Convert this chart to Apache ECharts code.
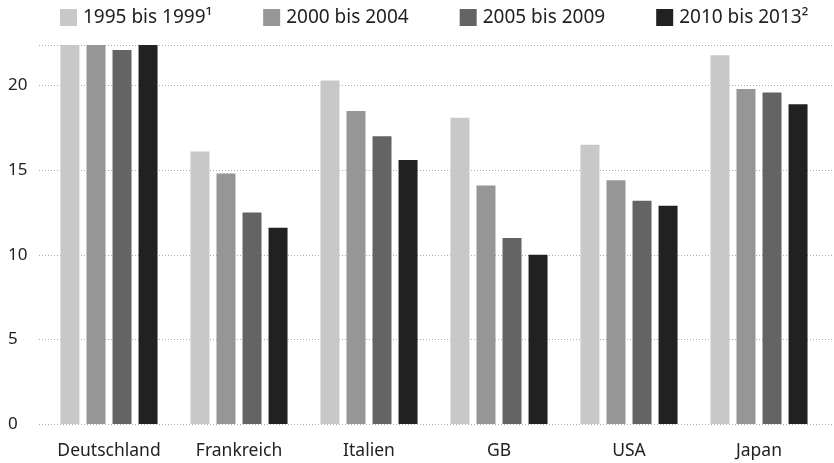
<!DOCTYPE html>
<html>
<head>
<meta charset="utf-8">
<script src="https://cdn.jsdelivr.net/npm/echarts@6/dist/echarts.min.js"></script>
<style>
html,body{margin:0;padding:0;background:#fff;}
#c{width:834px;height:463px;}
</style>
</head>
<body>
<div id="c"></div>
<script>
const categories = ['Deutschland', 'Frankreich', 'Italien', 'GB', 'USA', 'Japan'];
const seriesNames = ['1995 bis 1999\u00B9', '2000 bis 2004', '2005 bis 2009', '2010 bis 2013\u00B2'];
const s1995 = [22.4, 16.1, 20.3, 18.1, 16.5, 21.8];
const s2000 = [22.4, 14.8, 18.5, 14.1, 14.4, 19.8];
const s2005 = [22.1, 12.5, 17.0, 11.0, 13.2, 19.6];
const s2010 = [22.4, 11.6, 15.6, 10.0, 12.9, 18.9];
const yTicks = [0, 5, 10, 15, 20];
const colors = ['#c8c8c8', '#969696', '#646464', '#212121'];

const FONT = '"Noto Sans", sans-serif';
const YMAX = 22.4;
const chart = echarts.init(document.getElementById('c'), null, {renderer: 'canvas'});
const values = [s1995, s2000, s2005, s2010];

chart.setOption({
  animation: false,
  backgroundColor: '#ffffff',
  textStyle: {fontFamily: FONT},
  legend: {
    left: 60, top: 8, padding: 0,
    itemWidth: 17, itemHeight: 17, itemGap: 51,
    icon: 'rect',
    textStyle: {fontSize: 19, color: '#222', fontFamily: FONT, padding: [0, 0, 0, 1]},
    data: seriesNames
  },
  grid: [
    {left: 39, right: 0, top: 45, bottom: 39},
    {left: 44, right: 10, top: 45, bottom: 39}
  ],
  xAxis: [
    {gridIndex: 0, type: 'value', show: false, min: 0, max: 1},
    {gridIndex: 1, type: 'category', data: categories,
     axisLine: {show: false}, axisTick: {show: false},
     axisLabel: {fontSize: 17.5, color: '#222', margin: 18, interval: 0, fontFamily: FONT}}
  ],
  yAxis: [
    {gridIndex: 0, type: 'value', min: 0, max: YMAX, interval: 5,
     axisLine: {show: false}, axisTick: {show: false},
     axisLabel: {fontSize: 17, color: '#222', align: 'left', margin: 31, fontFamily: FONT,
       formatter: v => yTicks.includes(v) ? String(v) : ''},
     splitLine: {show: true, lineStyle: {color: '#aaaaaa', type: [1, 2], width: 1}}},
    {gridIndex: 1, type: 'value', min: 0, max: YMAX, show: false, splitLine: {show: false}}
  ],
  series: values.map((vals, i) => ({
    name: seriesNames[i],
    type: 'bar',
    xAxisIndex: 1, yAxisIndex: 1,
    data: vals,
    barWidth: 19,
    barGap: '37%',
    clip: true,
    itemStyle: {color: colors[i]}
  }))
});
</script>
</body>
</html>
